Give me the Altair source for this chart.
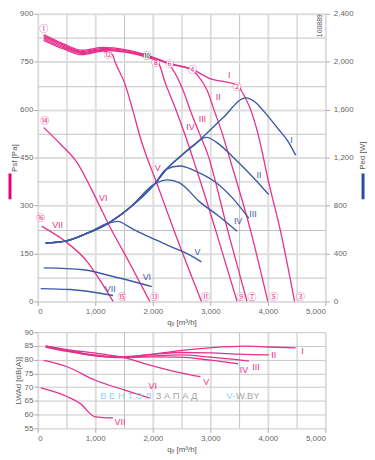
import altair as alt
import pandas as pd

MAG = "#e6318c"
BLUE = "#3a5aa5"
LEG_MAG = "#e5007e"
LEG_BLUE = "#2b4d9c"

# ---------------- pressure curves p_sf [Pa] vs q_v [m3/h] ----------------
pI_q = [103, 448, 776, 1138, 1517, 1897, 2293, 2690, 2983, 3431, 3500, 3551, 3707, 3827, 4017, 4224, 4465]
pI_p = [835, 806, 786, 795, 788, 771, 745, 726, 698, 679, 672, 656, 597, 526, 371, 217, 0]
pII_q = [103, 448, 776, 1138, 1517, 1897, 2293, 2690, 2776, 2948, 3069, 3207, 3310, 3707, 4000]
pII_p = [830, 802, 782, 792, 785, 769, 743, 723, 708, 659, 597, 526, 464, 217, 0]
pIII_q = [103, 448, 776, 1138, 1517, 1897, 2270, 2517, 2672, 2810, 2948, 3310, 3638]
pIII_p = [826, 798, 779, 789, 782, 767, 742, 665, 588, 526, 464, 217, 0]
pIV_q = [103, 448, 776, 1138, 1517, 1897, 2080, 2224, 2396, 2569, 2741, 3103, 3465]
pIV_p = [822, 794, 776, 786, 780, 764, 752, 680, 603, 517, 424, 217, 0]
pV_q = [103, 448, 776, 1138, 1300, 1345, 1517, 1655, 1776, 2086, 2379, 2845]
pV_p = [817, 790, 772, 783, 772, 749, 680, 597, 517, 362, 217, 0]
pVI_q = [103, 397, 690, 948, 1224, 1603, 1948]
pVI_p = [544, 492, 433, 346, 244, 118, 0]
pVII_q = [69, 448, 862, 1086, 1310]
pVII_p = [235, 192, 124, 65, 0]

# ---------------- power curves P_ed [W] ----------------
wI_q = [138, 483, 862, 1224, 1603, 2034, 2241, 2465, 2810, 3207, 3620, 3793, 3965, 4189, 4362, 4483]
wI_w = [487, 503, 569, 652, 783, 981, 1105, 1204, 1344, 1526, 1699, 1658, 1567, 1435, 1328, 1221]
wII_q = [138, 483, 862, 1224, 1603, 2034, 2241, 2465, 2700, 2931, 3155, 3379, 3672, 4017]
wII_w = [487, 503, 569, 652, 783, 981, 1105, 1204, 1300, 1369, 1311, 1212, 1072, 891]
wIII_q = [138, 483, 862, 1224, 1603, 2034, 2241, 2465, 2810, 3103, 3379, 3672]
wIII_w = [487, 503, 569, 652, 783, 981, 1105, 1130, 1072, 990, 866, 693]
wIV_q = [138, 483, 862, 1224, 1603, 2034, 2259, 2465, 2810, 3155, 3465]
wIV_w = [487, 503, 569, 652, 783, 981, 1014, 990, 833, 709, 586]
wV_q = [138, 483, 862, 1224, 1397, 1560, 1690, 1948, 2293, 2638, 2845]
wV_w = [487, 503, 569, 652, 668, 630, 594, 536, 462, 388, 330]
wVI_q = [103, 793, 1259, 1983]
wVI_w = [280, 264, 214, 124]
wVII_q = [52, 569, 1000, 1310]
wVII_w = [107, 99, 74, 49]

# ---------------- sound power L_WAd [dB(A)] ----------------
nI_q = [138, 517, 1029, 1400, 2000, 2466, 3000, 3600, 4000, 4483]
nI_db = [84.9, 83.3, 81.6, 81.0, 82.0, 83.3, 84.3, 84.9, 84.6, 84.3]
nII_q = [138, 517, 1029, 1400, 2000, 2466, 3000, 3500, 4017]
nII_db = [84.8, 83.2, 81.5, 80.9, 81.9, 82.6, 82.5, 82.0, 81.7]
nIII_q = [138, 517, 1029, 1400, 2000, 2466, 3000, 3672]
nIII_db = [84.7, 83.1, 81.4, 80.8, 81.4, 81.7, 80.9, 79.5]
nIV_q = [138, 517, 1029, 1400, 2000, 2466, 3000, 3483]
nIV_db = [84.6, 83.0, 81.3, 80.7, 81.0, 80.9, 79.8, 78.5]
nV_q = [138, 517, 1029, 1489, 1948, 2466, 2828]
nV_db = [85.0, 83.6, 82.3, 80.8, 78.0, 75.3, 73.8]
nVI_q = [103, 500, 1000, 1500, 1950]
nVI_db = [79.7, 77.5, 72.5, 69.0, 66.0]
nVII_q = [52, 517, 741, 1000, 1310]
nVII_db = [69.7, 66.5, 64.0, 59.2, 58.8]

# ---------------- labels ----------------
roman = ["I", "II", "III", "IV", "V", "VI", "VII"]
plab_q = [3327, 3138, 2862, 2655, 2086, 1138, 345]
plab_p = [708, 640, 572, 547, 418, 322, 238]
wlab_q = [4413, 3845, 3741, 3483, 2776, 1897, 1259]
wlab_w = [1344, 1056, 726, 668, 412, 206, 107]
nlab_q = [4603, 4103, 3793, 3586, 2931, 2000, 1431]
nlab_db = [83.1, 81.7, 77.4, 76.3, 72.0, 70.4, 57.2]

mk_text = ["①", "②", "③", "④", "⑤", "⑥", "⑦", "⑧", "⑨", "⑩", "⑪", "⑫", "⑬", "⑭", "⑮", "⑯"]
mk_q = [103, 3465, 4569, 2690, 4103, 2293, 3724, 2052, 3534, 1897, 2914, 1224, 2034, 121, 1466, 52]
mk_p = [851, 671, 15, 724, 15, 742, 15, 745, 15, 767, 15, 770, 15, 566, 15, 260]
mk_col = [MAG] * 9 + ["#333333"] + [MAG] * 6


def frame(curves, ycol):
    rows = []
    for name, (qs, vs) in curves.items():
        for i, (q, v) in enumerate(zip(qs, vs)):
            rows.append({"curve": name, "ord": i, "q": q, ycol: v})
    return pd.DataFrame(rows)


press_df = frame({"I": (pI_q, pI_p), "II": (pII_q, pII_p), "III": (pIII_q, pIII_p),
                  "IV": (pIV_q, pIV_p), "V": (pV_q, pV_p), "VI": (pVI_q, pVI_p),
                  "VII": (pVII_q, pVII_p)}, "p")
power_df = frame({"I": (wI_q, wI_w), "II": (wII_q, wII_w), "III": (wIII_q, wIII_w),
                  "IV": (wIV_q, wIV_w), "V": (wV_q, wV_w), "VI": (wVI_q, wVI_w),
                  "VII": (wVII_q, wVII_w)}, "w")
noise_df = frame({"I": (nI_q, nI_db), "II": (nII_q, nII_db), "III": (nIII_q, nIII_db),
                  "IV": (nIV_q, nIV_db), "V": (nV_q, nV_db), "VI": (nVI_q, nVI_db),
                  "VII": (nVII_q, nVII_db)}, "db")

plab_df = pd.DataFrame({"q": plab_q, "p": plab_p, "t": roman})
wlab_df = pd.DataFrame({"q": wlab_q, "w": wlab_w, "t": roman})
nlab_df = pd.DataFrame({"q": nlab_q, "db": nlab_db, "t": roman})
mk_df = pd.DataFrame({"q": mk_q, "p": mk_p, "t": mk_text, "c": mk_col})
id_df = pd.DataFrame({"q": [4913], "p": [863], "t": ["100889"]})

# ---------------- axes / scales ----------------
major_x = "datum.value % 1000 === 0"
gcol = lambda test: {"condition": {"test": test, "value": "#dedede"}, "value": "#c2c2c2"}
gwid = lambda test: {"condition": {"test": test, "value": 2}, "value": 1}
topa = lambda test: {"condition": {"test": test, "value": 1}, "value": 0}

x_scale = alt.Scale(domain=[0, 5000], nice=False, zero=False)
x_axis = alt.Axis(values=list(range(0, 5001, 500)),
                  labelExpr="datum.value % 1000 === 0 ? format(datum.value, ',') : ''",
                  title="qᵥ [m³/h]", tickSize=4, labelPadding=2, titlePadding=3,
                  gridColor=gcol(major_x), gridWidth=gwid(major_x), tickOpacity=topa(major_x))
X = alt.X("q:Q", scale=x_scale, axis=x_axis)

major_p = "datum.value % 150 === 0"
Yp = alt.Y("p:Q", scale=alt.Scale(domain=[0, 900], nice=False),
           axis=alt.Axis(orient="left", values=list(range(0, 901, 75)),
                         labelExpr="datum.value % 150 === 0 ? format(datum.value, ',') : ''",
                         title="Psf [Pa]", tickSize=4, labelPadding=1, titlePadding=1,
                         gridColor=gcol(major_p), gridWidth=gwid(major_p), tickOpacity=topa(major_p)))
Yw = alt.Y("w:Q", scale=alt.Scale(domain=[0, 2400], nice=False),
           axis=alt.Axis(orient="right", values=list(range(0, 2401, 400)), format=",d",
                         title=None, grid=False, tickSize=4, labelPadding=4))
Yn = alt.Y("db:Q", scale=alt.Scale(domain=[55, 90], nice=False, zero=False),
           axis=alt.Axis(values=list(range(55, 91, 5)), title="LWAd [dB(A)]", tickSize=4,
                         labelPadding=1, titlePadding=1, gridColor="#c8c8c8", gridWidth=1))

# ---------------- top panel ----------------
p_lines = alt.Chart(press_df).mark_line(color=MAG, strokeWidth=1.3, interpolate="monotone").encode(
    x=X, y=Yp, detail="curve:N", order="ord:Q")
p_labels = alt.Chart(plab_df).mark_text(color=MAG, fontSize=9, font="Liberation Sans").encode(
    x=X, y=Yp, text="t:N")
mk_bg = alt.Chart(mk_df).mark_point(shape="circle", filled=True, color="white", opacity=1, size=45).encode(
    x=X, y=Yp)
mk_txt = alt.Chart(mk_df).mark_text(fontSize=9, font="Noto Sans CJK JP").encode(
    x=X, y=Yp, text="t:N", color=alt.Color("c:N", scale=None))
id_txt = alt.Chart(id_df).mark_text(fontSize=7, angle=270, color="#555", font="Liberation Sans").encode(
    x=X, y=Yp, text="t:N")
leg_mag = alt.Chart(pd.DataFrame({"a": [0]})).mark_rule(color=LEG_MAG, strokeWidth=3).encode(
    x=alt.value(-28), y=alt.value(161), y2=alt.value(187))

w_lines = alt.Chart(power_df).mark_line(color=BLUE, strokeWidth=1.4, interpolate="monotone").encode(
    x=X, y=Yw, detail="curve:N", order="ord:Q")
w_labels = alt.Chart(wlab_df).mark_text(color=BLUE, fontSize=9, font="Liberation Sans").encode(
    x=X, y=Yw, text="t:N")
leg_blue = alt.Chart(pd.DataFrame({"a": [0]})).mark_rule(color=LEG_BLUE, strokeWidth=3).encode(
    x=alt.value(328), y=alt.value(161), y2=alt.value(187))
w_title = alt.Chart(pd.DataFrame({"t": ["Ped [W]"]})).mark_text(
    fontSize=8, angle=270, color="#555", font="Liberation Sans", align="center", baseline="middle").encode(
    x=alt.value(328), y=alt.value(143), text="t:N")

left = alt.layer(p_lines, p_labels, mk_bg, mk_txt, id_txt, leg_mag)
right = alt.layer(w_lines, w_labels, leg_blue, w_title)
top = alt.layer(left, right).resolve_scale(y="independent").properties(width=290, height=290)

# ---------------- bottom panel ----------------
n_lines = alt.Chart(noise_df).mark_line(color=MAG, strokeWidth=1.3, interpolate="monotone").encode(
    x=X, y=Yn, detail="curve:N", order="ord:Q")
n_labels = alt.Chart(nlab_df).mark_text(color=MAG, fontSize=9, font="Liberation Sans").encode(
    x=X, y=Yn, text="t:N")
wm_df = pd.DataFrame({"q": [1086, 2050, 3276, 3448], "db": [66.6, 66.6, 66.6, 66.6],
                      "t": ["В Е Н Т Э Л", "З А П А Д", "V-", "W.BY"],
                      "c": ["#8ccbec", "#9a9a9a", "#8ccbec", "#9a9a9a"]})
wm = alt.Chart(wm_df).mark_text(fontSize=9.5, font="Liberation Sans", align="left", opacity=0.9).encode(
    x=X, y=Yn, text="t:N", color=alt.Color("c:N", scale=None))
bottom = alt.layer(n_lines, n_labels, wm).properties(width=290, height=97)

chart = alt.vconcat(top, bottom, spacing=2).properties(padding=0).configure_view(
    stroke=None
).configure_axis(
    labelFont="Liberation Sans", labelFontSize=8, labelColor="#666",
    titleFont="Liberation Sans", titleFontSize=8, titleColor="#555", titleFontWeight="normal",
    domain=False, tickColor="#aaa"
)

chart.save("out.html", embed_options={"renderer": "svg", "actions": False})
